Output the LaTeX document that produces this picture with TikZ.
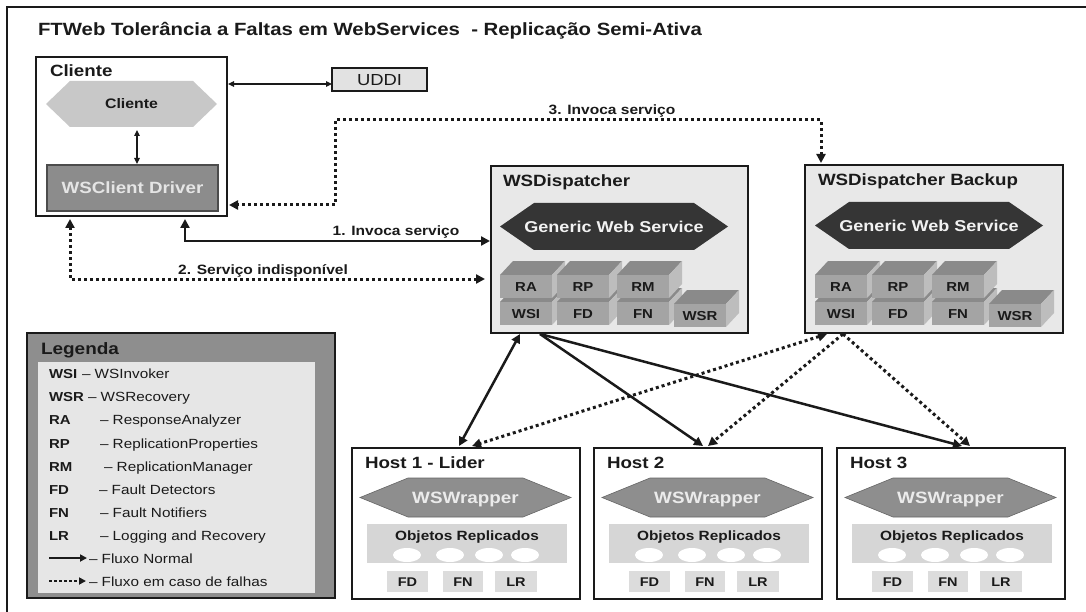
\documentclass[tikz,border=0pt]{standalone}
\usepackage{fontspec}
\setmainfont{Liberation Sans}[FakeStretch=1.15]
\usetikzlibrary{arrows.meta,calc,shapes.geometric}
\definecolor{hexlight}{HTML}{C8C8C8}
\definecolor{drvgray}{HTML}{8C8C8C}
\definecolor{uddigray}{HTML}{E2E2E2}
\definecolor{dispgray}{HTML}{E8E8E8}
\definecolor{gwsdark}{HTML}{353535}
\definecolor{cubefrontc}{HTML}{A4A4A4}
\definecolor{cubetopc}{HTML}{8A8A8A}
\definecolor{cuberightc}{HTML}{BDBDBD}
\definecolor{leggray}{HTML}{8E8E8E}
\definecolor{leginner}{HTML}{E6E6E6}
\definecolor{wrapgray}{HTML}{8E8E8E}
\definecolor{objgray}{HTML}{D6D6D6}
\definecolor{smallgray}{HTML}{DCDCDC}
\definecolor{ink}{HTML}{1A1A1A}
\newcommand\fsz[1]{\fontsize{#1}{#1}\selectfont}
% hexagon: name, x, y, w, h, inset, path style, node style, text
\newcommand\hexnode[9]{%
  \path[#7] (#2,#3+#5/2) -- (#2+#6,#3) -- (#2+#4-#6,#3) -- (#2+#4,#3+#5/2) -- (#2+#4-#6,#3+#5) -- (#2+#6,#3+#5) -- cycle;
  \node[#8, minimum width=#4, minimum height=#5, anchor=north west] (#1) at (#2,#3) {#9};}
% cube: name, x, y (front top), width, text
\newcommand\cubenode[5]{%
  \fill[cubetopc] (#2,#3) -- (#2+13,#3-14) -- (#2+#4+13,#3-14) -- (#2+#4,#3) -- cycle;
  \fill[cuberightc] (#2+#4,#3) -- (#2+#4+13,#3-14) -- (#2+#4+13,#3+9) -- (#2+#4,#3+23) -- cycle;
  \node[cubefront, minimum width=#4] (#1) at (#2,#3) {#5};}
% host: name, x, title
\newcommand\hostbox[3]{%
  \node[frame, fill=white, minimum width=228, minimum height=151, anchor=north west] (#1) at (#2,448) {};
  \node[boxlabel] (#1lbl) at (#2+13,468) {#3};
  \hexnode{#1ws}{#2+8}{478}{211}{39}{48}{fill=wrapgray, draw=black!60, line width=0.6pt}{wrapfont}{WSWrapper}
  \node[fill=objgray, minimum width=200, minimum height=39, anchor=north west] (#1obj) at (#2+15,524) {};
  \node[objfont] (#1objlbl) at (#2+115,537) {Objetos Replicados};
  \node[ellobj] (#1ea) at (#2+55,555) {};
  \node[ellobj] (#1eb) at (#2+98,555) {};
  \node[ellobj] (#1ec) at (#2+137,555) {};
  \node[ellobj] (#1ed) at (#2+173,555) {};
  \node[smallbox, minimum width=41] (#1fd) at (#2+35,571) {FD};
  \node[smallbox, minimum width=40] (#1fn) at (#2+91,571) {FN};
  \node[smallbox, minimum width=42] (#1lr) at (#2+143,571) {LR};}
\tikzset{
  every node/.style={inner sep=0pt, outer sep=0pt},
  frame/.style={draw=ink, line width=1.2pt},
  boxlabel/.style={font=\fsz{16.3}\bfseries, text=ink, anchor=base west},
  titlestyle/.style={font=\fsz{17.7}\bfseries, text=ink, anchor=base west},
  flowlabel/.style={font=\fsz{13.5}\bfseries, text=ink, anchor=base},
  legabbr/.style={font=\fsz{13}\bfseries, text=ink, anchor=base west},
  legtxt/.style={font=\fsz{13.3}, text=ink, anchor=base west},
  cubefront/.style={fill=cubefrontc, font=\fsz{13}\bfseries, text=ink, anchor=north west, minimum height=23, text height=9.3pt, text depth=0pt},
  gwsfont/.style={font=\fsz{15.7}\bfseries, text=white!95!black, text height=11.3pt, text depth=0pt},
  clihexfont/.style={font=\fsz{13.8}\bfseries, text=ink, text height=9.9pt, text depth=0pt},
  wrapfont/.style={font=\fsz{16.4}\bfseries, text=white!92!black, text height=11.7pt, text depth=0pt},
  objfont/.style={font=\fsz{13.4}\bfseries, text=ink},
  ellobj/.style={ellipse, fill=white, minimum width=28, minimum height=14},
  smallbox/.style={fill=smallgray, anchor=north west, minimum height=21, font=\fsz{12.6}\bfseries, text=ink, text height=9pt, text depth=0pt},
  thinarr/.style={line width=1.1pt, draw=ink, >={Triangle[length=6pt,width=5.5pt]}, <->},
  solidarr/.style={line width=2.5pt, draw=ink, >={Triangle[length=9pt,width=9pt]}},
  dotarr/.style={line width=3pt, draw=ink, dash pattern=on 3pt off 3pt, >={Triangle[length=9pt,width=9pt]}},
}
\begin{document}
\begin{tikzpicture}[x=1pt,y=-1pt]
\useasboundingbox (0,0) rectangle (1086,612);
\fill[white] (0,0) rectangle (1086,612);
\draw[line width=1.5pt, draw=ink] (7,612) -- (7,7) -- (1086,7);

\node[titlestyle] (title) at (38,36) {FTWeb Tolerância a Faltas em WebServices~ - Replicação Semi-Ativa};

% Client
\node[frame, fill=white, minimum width=191, minimum height=159, anchor=north west] (cli) at (36,57) {};
\node[boxlabel] (clilbl) at (50,77) {Cliente};
\hexnode{clihex}{46}{81}{171}{46}{24}{fill=hexlight}{clihexfont}{Cliente}
\node[frame, draw=black!70, fill=drvgray, minimum width=171, minimum height=46, anchor=north west,
      font=\fsz{16.3}\bfseries, text=white!90!black, text height=11.5pt, text depth=0pt] (drv) at (47,165) {WSClient Driver};

% UDDI
\node[frame, fill=uddigray, minimum width=95, minimum height=23, anchor=north west,
      font=\fsz{16}, text=ink, text height=11.5pt, text depth=0pt] (uddi) at (332,68) {UDDI};

% WSDispatcher
\node[frame, fill=dispgray, minimum width=257, minimum height=167, anchor=north west] (disp) at (491,166) {};
\node[boxlabel] (displbl) at (503,187) {WSDispatcher};
\hexnode{dgws}{500}{203}{228}{47}{34}{fill=gwsdark}{gwsfont}{Generic Web Service}
\cubenode{dWSI}{500}{302}{52}{WSI}
\cubenode{dFD}{557}{302}{52}{FD}
\cubenode{dFN}{617}{302}{52}{FN}
\cubenode{dRA}{500}{275}{52}{RA}
\cubenode{dRP}{557}{275}{52}{RP}
\cubenode{dRM}{617}{275}{52}{RM}
\cubenode{dWSR}{674}{304}{52}{WSR}

% WSDispatcher Backup
\node[frame, fill=dispgray, minimum width=258, minimum height=168, anchor=north west] (bdisp) at (805,165) {};
\node[boxlabel] (bdisplbl) at (818,186) {WSDispatcher Backup};
\hexnode{bgws}{815}{202}{228}{47}{34}{fill=gwsdark}{gwsfont}{Generic Web Service}
\cubenode{bWSI}{815}{302}{52}{WSI}
\cubenode{bFD}{872}{302}{52}{FD}
\cubenode{bFN}{932}{302}{52}{FN}
\cubenode{bRA}{815}{275}{52}{RA}
\cubenode{bRP}{872}{275}{52}{RP}
\cubenode{bRM}{932}{275}{52}{RM}
\cubenode{bWSR}{989}{304}{52}{WSR}

% Hosts
\hostbox{hA}{352}{Host 1 - Lider}
\hostbox{hB}{594}{Host 2}
\hostbox{hC}{837}{Host 3}

% Legend
\node[frame, fill=leggray, minimum width=308, minimum height=265, anchor=north west] (leg) at (27,333) {};
\node[boxlabel, font=\fsz{16.5}\bfseries] (leglbl) at (41,354) {Legenda};
\node[fill=leginner, minimum width=277, minimum height=231, anchor=north west] (legin) at (38,362) {};
\node[legabbr] (lk1) at (49,378) {WSI};  \node[legtxt] (lv1) at (82,378) {– WSInvoker};
\node[legabbr] (lk2) at (49,401) {WSR};  \node[legtxt] (lv2) at (88,401) {– WSRecovery};
\node[legabbr] (lk3) at (49,424) {RA};   \node[legtxt] (lv3) at (100,424) {– ResponseAnalyzer};
\node[legabbr] (lk4) at (49,448) {RP};   \node[legtxt] (lv4) at (100,448) {– ReplicationProperties};
\node[legabbr] (lk5) at (49,471) {RM};   \node[legtxt] (lv5) at (104,471) {– ReplicationManager};
\node[legabbr] (lk6) at (49,494) {FD};   \node[legtxt] (lv6) at (99,494) {– Fault Detectors};
\node[legabbr] (lk7) at (49,517) {FN};   \node[legtxt] (lv7) at (100,517) {– Fault Notifiers};
\node[legabbr] (lk8) at (49,540) {LR};   \node[legtxt] (lv8) at (100,540) {– Logging and Recovery};
\coordinate (la1) at (49,558); \coordinate (la2) at (87,558);
\coordinate (lb1) at (49,581); \coordinate (lb2) at (86,581);
\draw[solidarr, line width=2pt, >={Triangle[length=7pt,width=7pt]}, ->] (la1) -- (la2);
\draw[dotarr, line width=2.5pt, dash pattern=on 2.5pt off 2.5pt, >={Triangle[length=7pt,width=7pt]}, ->] (lb1) -- (lb2);
\node[legtxt] (lv9) at (89,563) {– Fluxo Normal};
\node[legtxt] (lv10) at (89,586) {– Fluxo em caso de falhas};

% Connectors
\draw[thinarr] ($(cli.north east)+(1,27)$) -- ($(uddi.north west)+(0,16)$);
\draw[thinarr] ($(clihex.south)+(5.5,3)$) -- ($(drv.north)+(4.5,-1)$);

\draw[dotarr,<->] ($(bdisp.north west)+(16,-2)$) |- ($(cli.north east)+(108,63)$) |- ($(cli.north east)+(2,148)$);
\node[flowlabel] (f3) at (612,115) {3. Invoca serviço};

\draw[solidarr,<->] ($(cli.south west)+(149,3)$) |- ($(disp.north west)+(-1,75)$);
\node[flowlabel] (f1) at (396,236) {1. Invoca serviço};

\draw[dotarr,<->] ($(cli.south west)+(34,3)$) |- ($(disp.north west)+(-6,113)$);
\node[flowlabel] (f2) at (263,274) {2. Serviço indisponível};

\draw[solidarr,<->] ($(disp.south west)+(29,1)$) -- ($(hA.north west)+(107,-2)$);
\draw[solidarr,->] ($(disp.south west)+(49,1)$) -- ($(hB.north west)+(109,-2)$);
\draw[solidarr,->] ($(disp.south west)+(49,1)$) -- ($(hC.north west)+(125,-2)$);
\draw[dotarr,<->] ($(bdisp.south west)+(22,1)$) -- ($(hA.north west)+(120,-2)$);
\draw[dotarr,->] ($(bdisp.south west)+(38,1)$) -- ($(hB.north west)+(114,-2)$);
\draw[dotarr,->] ($(bdisp.south west)+(38,1)$) -- ($(hC.north west)+(133,-2)$);
\end{tikzpicture}
\end{document}
